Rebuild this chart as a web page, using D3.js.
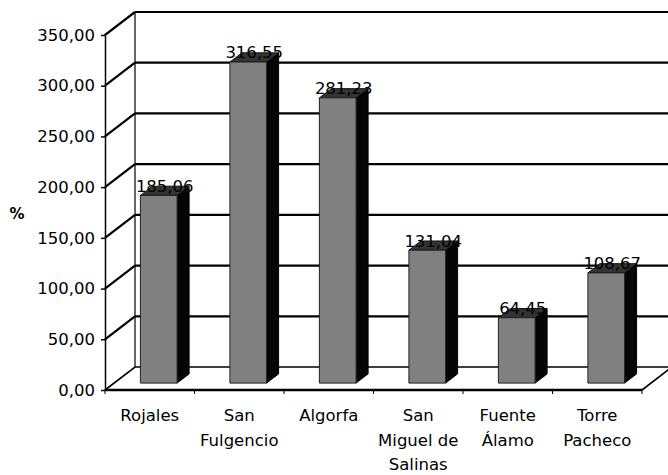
<!DOCTYPE html>
<html>
<head>
<meta charset="utf-8">
<script src="https://cdn.jsdelivr.net/npm/d3@7"></script>
<style>
  html, body { margin: 0; padding: 0; background: #fff; }
  svg { display: block; }
  text { font-family: "DejaVu Sans", sans-serif; fill: #000; }
</style>
</head>
<body>
<svg id="chart" width="668" height="475"></svg>
<script>
// Municipalities and their percentage values
const categories = ["Rojales", "San Fulgencio", "Algorfa", "San Miguel de Salinas", "Fuente Álamo", "Torre Pacheco"];
const categoryLines = [["Rojales"], ["San", "Fulgencio"], ["Algorfa"], ["San", "Miguel de", "Salinas"], ["Fuente", "Álamo"], ["Torre", "Pacheco"]];
const values = [185.06, 316.55, 281.23, 131.04, 64.45, 108.67];
const yTicks = [0, 50, 100, 150, 200, 250, 300, 350];
const yLabel = "%";

const FS = 16.5;
const svg = d3.select("#chart");

// Front plane scales
const x = d3.scaleBand().domain(categories).range([105, 642]).padding(0);
const y = d3.scaleLinear().domain([0, 350]).range([390, 35]);

// Depth offset of the 3D box (full depth)
const DX = 30, DY = -23;
const proj = (px, py, d) => [px + DX * d, py + DY * d];

const fmt = v => d3.format(".2f")(v).replace(".", ",");

const x0 = x.range()[0], x1 = x.range()[1];
const yTop = y(350), yBase = y(0);

const walls = svg.append("g");

// Back wall gridlines
walls.selectAll("line.back")
  .data(yTicks.filter(t => t > 0))
  .join("line")
  .attr("x1", proj(x0, y(0), 1)[0])
  .attr("x2", proj(x1, y(0), 1)[0])
  .attr("y1", d => proj(x0, y(d), 1)[1])
  .attr("y2", d => proj(x0, y(d), 1)[1])
  .attr("stroke", "#000").attr("stroke-width", 2.2);

// Left wall diagonals
walls.selectAll("line.side")
  .data(yTicks.filter(t => t > 0))
  .join("line")
  .attr("x1", x0).attr("y1", d => y(d))
  .attr("x2", proj(x0, 0, 1)[0]).attr("y2", d => proj(x0, y(d), 1)[1])
  .attr("stroke", "#000").attr("stroke-width", 2.2);

// Left wall back edge
walls.append("line")
  .attr("x1", proj(x0, 0, 1)[0]).attr("x2", proj(x0, 0, 1)[0])
  .attr("y1", proj(x0, yTop, 1)[1]).attr("y2", proj(x0, yBase, 1)[1])
  .attr("stroke", "#000").attr("stroke-width", 1.2);

// Floor outline
const floor = [[x0, yBase], proj(x0, yBase, 1), proj(x1, yBase, 1), [x1, yBase]];
walls.append("path")
  .attr("d", d3.line()(floor))
  .attr("fill", "none").attr("stroke", "#000").attr("stroke-width", 1.6);

// Bars: front face, right side, top
const bw = x.bandwidth() * 0.41;
const dFront = 0.3, dBack = 0.7;
const bars = svg.append("g").selectAll("g").data(values).join("g");

bars.each(function (v, i) {
  const g = d3.select(this);
  const cx = x(categories[i]) + x.bandwidth() / 2;
  const L = cx - bw / 2, R = cx + bw / 2;
  const fBL = proj(L, y(0), dFront), fBR = proj(R, y(0), dFront);
  const fTL = proj(L, y(v), dFront), fTR = proj(R, y(v), dFront);
  const bBR = proj(R, y(0), dBack), bTR = proj(R, y(v), dBack), bTL = proj(L, y(v), dBack);
  g.append("path").attr("d", d3.line()([fTR, bTR, bBR, fBR]) + "Z")
    .attr("fill", "#050505").attr("stroke", "#000").attr("stroke-width", 1);
  g.append("path").attr("d", d3.line()([fTL, bTL, bTR, fTR]) + "Z")
    .attr("fill", "#333").attr("stroke", "#111").attr("stroke-width", 1);
  g.append("path").attr("d", d3.line()([fBL, fTL, fTR, fBR]) + "Z")
    .attr("fill", "#808080").attr("stroke", "#222").attr("stroke-width", 1);
  const mid = proj(cx, y(v), (dFront + dBack) / 2);
  g.append("text")
    .attr("x", mid[0]).attr("y", mid[1] + 1)
    .attr("text-anchor", "middle")
    .attr("font-size", FS)
    .text(fmt(v));
});

// Front value axis
const yAxis = d3.axisLeft(y).tickValues(yTicks).tickFormat(fmt).tickSize(4).tickPadding(6).tickSizeOuter(0);
const ya = svg.append("g").attr("transform", `translate(${x0},0)`).call(yAxis);
ya.select(".domain").attr("stroke", "#000").attr("stroke-width", 1.5);
ya.selectAll(".tick line").attr("stroke", "#000").attr("stroke-width", 1.5);
ya.selectAll(".tick text").attr("font-size", FS).attr("font-family", "DejaVu Sans, sans-serif").attr("fill", "#000");

// Top edge of the left wall
svg.append("line")
  .attr("x1", x0).attr("y1", yTop)
  .attr("x2", proj(x0, 0, 1)[0]).attr("y2", proj(x0, yTop, 1)[1])
  .attr("stroke", "#000").attr("stroke-width", 2.2);

// Front category axis line and boundary ticks
svg.append("line")
  .attr("x1", x0).attr("x2", x1).attr("y1", yBase).attr("y2", yBase)
  .attr("stroke", "#000").attr("stroke-width", 2.5);
svg.append("g").selectAll("line")
  .data(categories.map(c => x(c)).concat([x1]))
  .join("line")
  .attr("x1", d => d).attr("x2", d => d)
  .attr("y1", yBase).attr("y2", yBase + 4)
  .attr("stroke", "#000").attr("stroke-width", 1);

// Category labels
const cl = svg.append("g").selectAll("text").data(categories).join("text")
  .attr("text-anchor", "middle")
  .attr("font-size", FS)
  .attr("x", d => x(d) + x.bandwidth() / 2)
  .attr("y", 421);
cl.each(function (d, i) {
  d3.select(this).selectAll("tspan").data(categoryLines[i]).join("tspan")
    .attr("x", x(d) + x.bandwidth() / 2)
    .attr("dy", (t, j) => j === 0 ? 0 : 24.5)
    .text(t => t);
});

// Value axis title
svg.append("text")
  .attr("x", 17).attr("y", 219)
  .attr("text-anchor", "middle")
  .attr("font-size", 15).attr("font-weight", "bold")
  .text(yLabel);
</script>
</body>
</html>
